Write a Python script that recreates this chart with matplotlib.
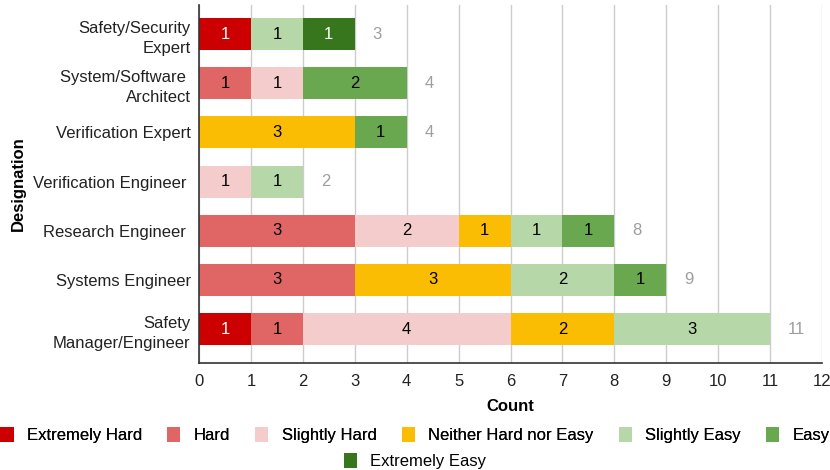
import matplotlib
matplotlib.use("Agg")
import matplotlib.pyplot as plt
from matplotlib.patches import Patch
import numpy as np

plt.rcParams['font.family'] = ['Liberation Sans', 'DejaVu Sans']

categories = ["Safety/Security\nExpert", "System/Software \nArchitect", "Verification Expert",
              "Verification Engineer ", "Research Engineer ", "Systems Engineer",
              "Safety\nManager/Engineer"]
levels = ["Extremely Hard", "Hard", "Slightly Hard", "Neither Hard nor Easy",
          "Slightly Easy", "Easy", "Extremely Easy"]
colors = ["#cc0000", "#e06666", "#f4cccc", "#fbbc04", "#b6d7a8", "#6aa84f", "#38761d"]
text_colors = ["white", "black", "black", "black", "black", "black", "white"]

extremely_hard = [1, 0, 0, 0, 0, 0, 1]
hard           = [0, 1, 0, 0, 3, 3, 1]
slightly_hard  = [0, 1, 0, 1, 2, 0, 4]
neither        = [0, 0, 3, 0, 1, 3, 2]
slightly_easy  = [1, 0, 0, 1, 1, 2, 3]
easy           = [0, 2, 1, 0, 1, 1, 0]
extremely_easy = [1, 0, 0, 0, 0, 0, 0]
series = [extremely_hard, hard, slightly_hard, neither, slightly_easy, easy, extremely_easy]
xticks = list(range(0, 13))

FS = 12
fig = plt.figure(figsize=(8.3, 4.7), dpi=100)
ax = fig.add_axes([199/830, 1-363/470, (822-199)/830, (363-5)/470])

y = np.arange(len(categories))
left = np.zeros(len(categories))
for vals, col, tc in zip(series, colors, text_colors):
    vals = np.array(vals, dtype=float)
    ax.barh(y, vals, left=left, height=0.65, color=col, zorder=3)
    for yi, (v, l) in enumerate(zip(vals, left)):
        if v > 0:
            ax.text(l + v/2, yi, f"{int(v)}", ha="center", va="center",
                    color=tc, fontsize=FS, zorder=4)
    left += vals

for yi, tot in enumerate(left):
    ax.annotate(f"{int(tot)}", (tot, yi), xytext=(13, 0), textcoords="offset points",
                ha="left", va="center", color="#9e9e9e", fontsize=FS)

ax.set_xlim(0, 12)
ax.set_ylim(6.69, -0.59)
ax.set_xticks(xticks)
ax.set_yticks(y)
ax.set_yticklabels(categories, linespacing=1.45)
ax.tick_params(axis="both", length=0, labelsize=FS, colors="#222222")
ax.tick_params(axis="y", pad=6)
ax.tick_params(axis="x", pad=8)
ax.grid(axis="x", color="#cccccc", linewidth=1, zorder=0)
for s in ["top", "right"]:
    ax.spines[s].set_visible(False)
for s in ["left", "bottom"]:
    ax.spines[s].set_color("#333333")
    ax.spines[s].set_linewidth(1.2)
    ax.spines[s].set_zorder(5)

ax.set_xlabel("Count", fontsize=FS, fontweight="bold", labelpad=7)
fig.text(18/830, 1-184/470, "Designation", rotation=90, ha="center", va="center",
         fontsize=FS, fontweight="bold")

handles = [Patch(facecolor=c, edgecolor="none") for c in colors]
leg1 = fig.legend(handles[:6], levels[:6], loc="center", bbox_to_anchor=(0.5, 1-435/470),
                  ncol=6, frameon=False, fontsize=FS, handlelength=0.8, handleheight=1.0,
                  handletextpad=0.8, columnspacing=1.5)
leg2 = fig.legend(handles[6:], levels[6:], loc="center", bbox_to_anchor=(0.5, 1-461/470),
                  ncol=1, frameon=False, fontsize=FS, handlelength=0.8, handleheight=1.0,
                  handletextpad=0.8)
fig.add_artist(leg1)

fig.savefig("out.png", dpi=100)
